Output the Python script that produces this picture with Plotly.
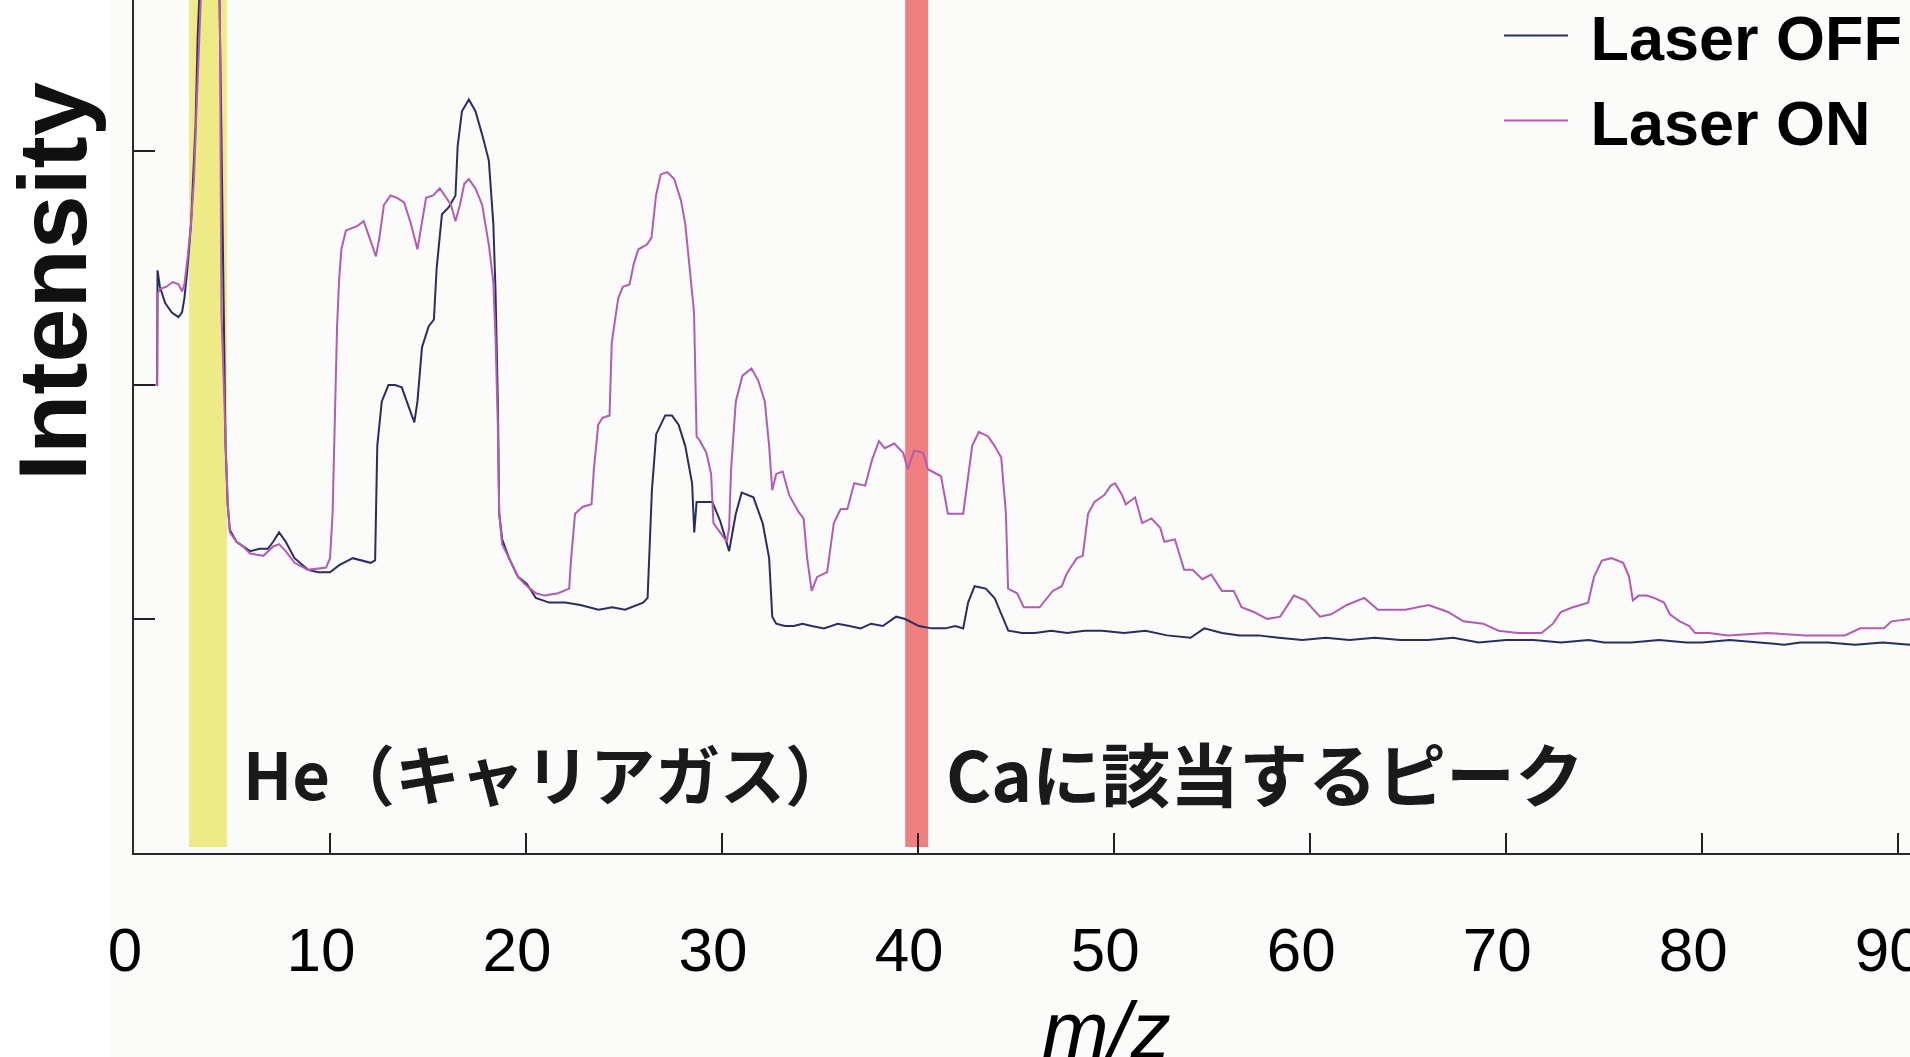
import plotly.graph_objects as go

# ---------------- data ----------------
off_mz = [1.00, 1.18, 1.20, 1.32, 1.59, 1.93, 2.27, 2.45, 2.57, 2.73, 2.91, 3.03, 3.14, 3.25, 3.40,
          3.70, 4.00, 4.30, 4.44, 4.55, 4.67, 4.78, 4.89, 5.23, 5.60, 5.92, 6.40, 6.83, 7.10, 7.40,
          7.74, 8.19, 8.88, 9.40, 10.00, 10.47, 11.16, 11.60, 12.07, 12.30, 12.41, 12.64, 12.98,
          13.32, 13.66, 14.00, 14.30, 14.46, 14.69, 15.03, 15.30, 15.44, 15.71, 16.06, 16.40,
          16.51, 16.73, 17.08, 17.42, 17.76, 18.10, 18.33, 18.44, 18.56, 18.63, 18.78, 19.13,
          19.59, 20.04, 20.50, 21.18, 22.00, 22.77, 23.70, 24.40, 25.05, 25.97, 26.20, 26.42,
          26.64, 27.10, 27.44, 27.78, 28.12, 28.47, 28.58, 28.70, 29.50, 29.90, 30.36, 30.70,
          31.00, 31.60, 32.07, 32.40, 32.56, 32.76, 33.20, 33.66, 34.10, 34.57, 35.20, 35.90,
          36.50, 37.07, 37.60, 38.20, 38.88, 39.34, 40.04, 40.70, 41.40, 41.90, 42.30, 42.55,
          42.88, 43.45, 43.90, 44.24, 44.60, 45.30, 45.96, 46.80, 47.60, 48.50, 49.40, 50.50,
          51.60, 52.70, 53.90, 54.60, 55.50, 56.40, 57.35, 58.40, 59.60, 60.80, 62.00, 63.30,
          64.60, 66.00, 67.30, 68.60, 70.00, 71.40, 72.80, 74.20, 75.00, 76.40, 77.80, 79.20,
          80.00, 81.40, 82.80, 84.20, 85.00, 86.40, 87.80, 89.20, 90.60]
off_int = [2.00, 2.00, 2.49, 2.42, 2.35, 2.31, 2.29, 2.31, 2.37, 2.50, 2.69, 2.88, 3.11, 3.49, 3.80,
           4.40, 4.60, 4.00, 3.19, 2.50, 1.74, 1.49, 1.38, 1.33, 1.31, 1.29, 1.30, 1.30, 1.33, 1.37,
           1.33, 1.26, 1.21, 1.20, 1.20, 1.23, 1.26, 1.25, 1.24, 1.25, 1.74, 1.93, 2.00,
           2.00, 1.99, 1.91, 1.84, 1.93, 2.16, 2.25, 2.28, 2.50, 2.73, 2.76, 2.81,
           3.02, 3.17, 3.22, 3.17, 3.07, 2.96, 2.69, 2.41, 1.93, 1.45, 1.34, 1.26,
           1.18, 1.15, 1.09, 1.07, 1.07, 1.06, 1.04, 1.05, 1.04, 1.07, 1.09, 1.55,
           1.79, 1.87, 1.87, 1.83, 1.74, 1.58, 1.37, 1.50, 1.50, 1.42, 1.29, 1.45,
           1.54, 1.52, 1.41, 1.26, 1.01, 0.98, 0.97, 0.97, 0.98, 0.97, 0.96, 0.98,
           0.97, 0.96, 0.98, 0.97, 1.01, 1.00, 0.97, 0.96, 0.96, 0.97, 0.96, 1.07,
           1.14, 1.13, 1.09, 1.02, 0.95, 0.94, 0.94, 0.95, 0.94, 0.95, 0.95, 0.94,
           0.95, 0.93, 0.92, 0.96, 0.94, 0.93, 0.93, 0.92, 0.91, 0.92, 0.91, 0.92,
           0.91, 0.91, 0.92, 0.90, 0.91, 0.91, 0.90, 0.91, 0.90, 0.90, 0.91, 0.90,
           0.90, 0.91, 0.90, 0.89, 0.90, 0.90, 0.89, 0.90, 0.89]

on_mz = [1.00, 1.18, 1.20, 1.32, 1.65, 1.98, 2.27, 2.45, 2.57, 2.73, 2.91, 3.06, 3.20, 3.35, 3.50,
         3.80, 4.10, 4.35, 4.46, 4.67, 4.78, 4.89, 5.23, 5.57, 5.92, 6.60, 7.10, 7.40, 7.74, 8.19,
         8.88, 9.80, 10.00, 10.13, 10.25, 10.36, 10.47, 10.58, 10.81, 11.15, 11.40, 11.72, 12.07,
         12.34, 12.52, 12.75, 13.09, 13.42, 13.78, 14.12, 14.46, 14.69, 14.90, 15.26, 15.60,
         15.93, 16.17, 16.40, 16.63, 16.85, 17.08, 17.42, 17.76, 18.10, 18.33, 18.44, 18.56,
         18.63, 18.78, 19.13, 19.59, 19.93, 20.50, 20.95, 21.63, 22.20, 22.30, 22.50, 22.90,
         23.34, 23.46, 23.68, 23.90, 24.26, 24.37, 24.70, 24.94, 25.28, 25.50, 25.73, 26.17,
         26.40, 26.63, 26.87, 27.20, 27.56, 27.90, 28.12, 28.35, 28.57, 28.70, 28.88, 29.20,
         29.44, 29.56, 29.90, 30.24, 30.36, 30.46, 30.70, 31.04, 31.50, 31.84, 32.18, 32.40,
         32.56, 32.76, 33.09, 33.42, 33.88, 34.16, 34.34, 34.57, 34.85, 35.36, 35.70, 36.05,
         36.39, 36.74, 37.30, 37.65, 38.00, 38.30, 38.78, 39.24, 39.47, 39.80, 40.26, 40.50,
         41.17, 41.52, 42.30, 42.55, 42.76, 43.10, 43.57, 43.90, 44.24, 44.48, 44.59, 45.05,
         45.39, 46.20, 46.87, 47.33, 47.56, 47.78, 48.10, 48.40, 48.67, 49.00, 49.50, 49.83,
         50.05, 50.40, 50.60, 51.07, 51.43, 51.90, 52.35, 52.56, 53.10, 53.57, 54.00, 54.50,
         54.95, 55.50, 56.10, 56.50, 57.12, 57.80, 58.47, 59.17, 59.74, 60.50, 61.07, 61.87,
         62.76, 63.46, 64.85, 66.04, 67.03, 67.82, 68.82, 69.61, 70.60, 71.80, 72.39, 72.79,
         73.39, 74.18, 74.48, 74.88, 75.37, 75.97, 76.27, 76.46, 76.76, 77.16, 77.55, 78.05,
         78.35, 78.85, 79.34, 79.64, 80.34, 81.33, 83.30, 85.30, 87.28, 88.06, 89.27, 89.66,
         90.60]
on_int = [2.00, 2.00, 2.39, 2.41, 2.42, 2.44, 2.43, 2.40, 2.43, 2.54, 2.69, 2.88, 3.20, 3.60, 3.90,
          4.50, 4.70, 4.10, 2.31, 1.74, 1.49, 1.37, 1.33, 1.31, 1.28, 1.27, 1.31, 1.32, 1.29, 1.24,
          1.21, 1.22, 1.26, 1.45, 1.83, 2.25, 2.46, 2.58, 2.66, 2.67, 2.68, 2.70, 2.61,
          2.55, 2.63, 2.77, 2.81, 2.80, 2.78, 2.69, 2.58, 2.69, 2.80, 2.81, 2.84,
          2.80, 2.77, 2.70, 2.77, 2.86, 2.88, 2.84, 2.77, 2.60, 2.44, 2.21, 1.83,
          1.45, 1.32, 1.26, 1.18, 1.15, 1.11, 1.10, 1.11, 1.13, 1.26, 1.45, 1.48,
          1.49, 1.64, 1.83, 1.86, 1.87, 2.18, 2.37, 2.42, 2.43, 2.52, 2.58, 2.60,
          2.63, 2.81, 2.90, 2.91, 2.88, 2.79, 2.69, 2.50, 2.31, 1.78, 1.76, 1.71,
          1.62, 1.41, 1.37, 1.33, 1.39, 1.64, 1.93, 2.04, 2.07, 2.02, 1.93, 1.74,
          1.55, 1.62, 1.63, 1.53, 1.46, 1.43, 1.26, 1.12, 1.18, 1.20, 1.41, 1.47,
          1.47, 1.58, 1.57, 1.68, 1.76, 1.73, 1.75, 1.71, 1.64, 1.72, 1.71, 1.64,
          1.61, 1.45, 1.45, 1.60, 1.74, 1.80, 1.78, 1.74, 1.69, 1.45, 1.13, 1.11,
          1.05, 1.05, 1.12, 1.14, 1.19, 1.22, 1.26, 1.27, 1.45, 1.50, 1.53, 1.57,
          1.58, 1.53, 1.49, 1.52, 1.41, 1.43, 1.39, 1.33, 1.34, 1.21, 1.21, 1.17,
          1.19, 1.12, 1.12, 1.05, 1.03, 1.00, 1.01, 1.10, 1.08, 1.01, 1.02, 1.06,
          1.09, 1.04, 1.04, 1.06, 1.03, 0.99, 0.98, 0.95, 0.94, 0.94, 0.98, 1.03,
          1.05, 1.07, 1.18, 1.25, 1.26, 1.24, 1.18, 1.08, 1.10, 1.10, 1.09, 1.07,
          1.02, 0.99, 0.97, 0.94, 0.94, 0.93, 0.94, 0.93, 0.93, 0.96, 0.96, 0.99,
          1.00]

x_ticks = [0, 10, 20, 30, 40, 50, 60, 70, 80, 90]
y_ticks = [1, 2, 3]
he_band = [2.81, 4.74]
ca_band = [39.34, 40.51]

# ---------------- figure ----------------
fig = go.Figure()
fig.add_trace(go.Scatter(x=off_mz, y=off_int, mode="lines", name=" Laser OFF",
                         line=dict(color="#2b2d62", width=2)))
fig.add_trace(go.Scatter(x=on_mz, y=on_int, mode="lines", name=" Laser ON",
                         line=dict(color="#b35bb5", width=2)))

W, H = 1910, 1057
L, B = 134, 204
plot_w, plot_h = W - L, H - B

def px_x(p):
    return (p - L) / plot_w

def px_y(p):
    return (plot_h - p) / plot_h

shapes = [
    dict(type="rect", xref="paper", yref="paper", x0=px_x(110), x1=1.0, y0=px_y(H), y1=1.0,
         fillcolor="#fbfbf9", line=dict(width=0), layer="below"),
    dict(type="rect", xref="x", yref="y domain", x0=he_band[0], x1=he_band[1], y0=0.007, y1=1,
         fillcolor="#eeeb87", line=dict(width=0), layer="below"),
    dict(type="rect", xref="x", yref="y domain", x0=ca_band[0], x1=ca_band[1], y0=0.007, y1=1,
         fillcolor="#f27f7f", line=dict(width=0), layer="below"),
]

annotations = [
    dict(text="He（キャリアガス）", xref="x", yref="y", x=5.45, y=0.345, xanchor="left",
         yanchor="middle", showarrow=False,
         font=dict(family="Noto Sans CJK JP", size=65, color="#1a1a1a", weight="bold")),
    dict(text="Caに該当するピーク", xref="x", yref="y", x=41.3, y=0.345, xanchor="left",
         yanchor="middle", showarrow=False,
         font=dict(family="Noto Sans CJK JP", size=69, color="#1a1a1a", weight="bold")),
    dict(text="<i>m/z</i>", xref="paper", yref="paper", x=px_x(1106), y=px_y(1030),
         xanchor="center", yanchor="middle", showarrow=False,
         font=dict(family="Liberation Sans", size=80, color="#000000")),
    dict(text="Intensity", xref="paper", yref="paper", x=px_x(52), y=px_y(282),
         xanchor="center", yanchor="middle", textangle=-90, showarrow=False,
         font=dict(family="Liberation Sans", size=97, color="#111111", weight="bold")),
]

fig.update_layout(
    width=W, height=H, autosize=False,
    margin=dict(l=L, r=0, t=0, b=B, pad=0, autoexpand=False),
    paper_bgcolor="#ffffff", plot_bgcolor="rgba(0,0,0,0)",
    shapes=shapes, annotations=annotations,
    showlegend=True,
    legend=dict(x=px_x(1499), y=1.014, xanchor="left", yanchor="top",
                bgcolor="rgba(0,0,0,0)", borderwidth=0, itemwidth=64,
                font=dict(family="Liberation Sans", size=63, color="#000000", weight="bold")),
    xaxis=dict(range=[0, 90.6], tickmode="array", tickvals=x_ticks,
               ticktext=[str(v) for v in x_ticks], ticks="inside", ticklen=20, tickwidth=2,
               tickcolor="#222222", showline=True, linecolor="#2a2a2a", linewidth=2,
               showgrid=False, zeroline=False, ticklabelstandoff=42, ticklabelshift=-9,
               ticklabeloverflow="allow",
               tickfont=dict(family="Liberation Sans", size=62, color="#000000")),
    yaxis=dict(range=[0, plot_h / 234.0], tickmode="array", tickvals=y_ticks,
               ticks="inside", ticklen=21, tickwidth=2, tickcolor="#222222",
               showticklabels=False, showline=True, linecolor="#2a2a2a", linewidth=2,
               showgrid=False, zeroline=False),
)

fig.write_html("out.html", config={"displayModeBar": False},
               post_script="document.body.style.margin='0';document.body.style.overflow='hidden';")
